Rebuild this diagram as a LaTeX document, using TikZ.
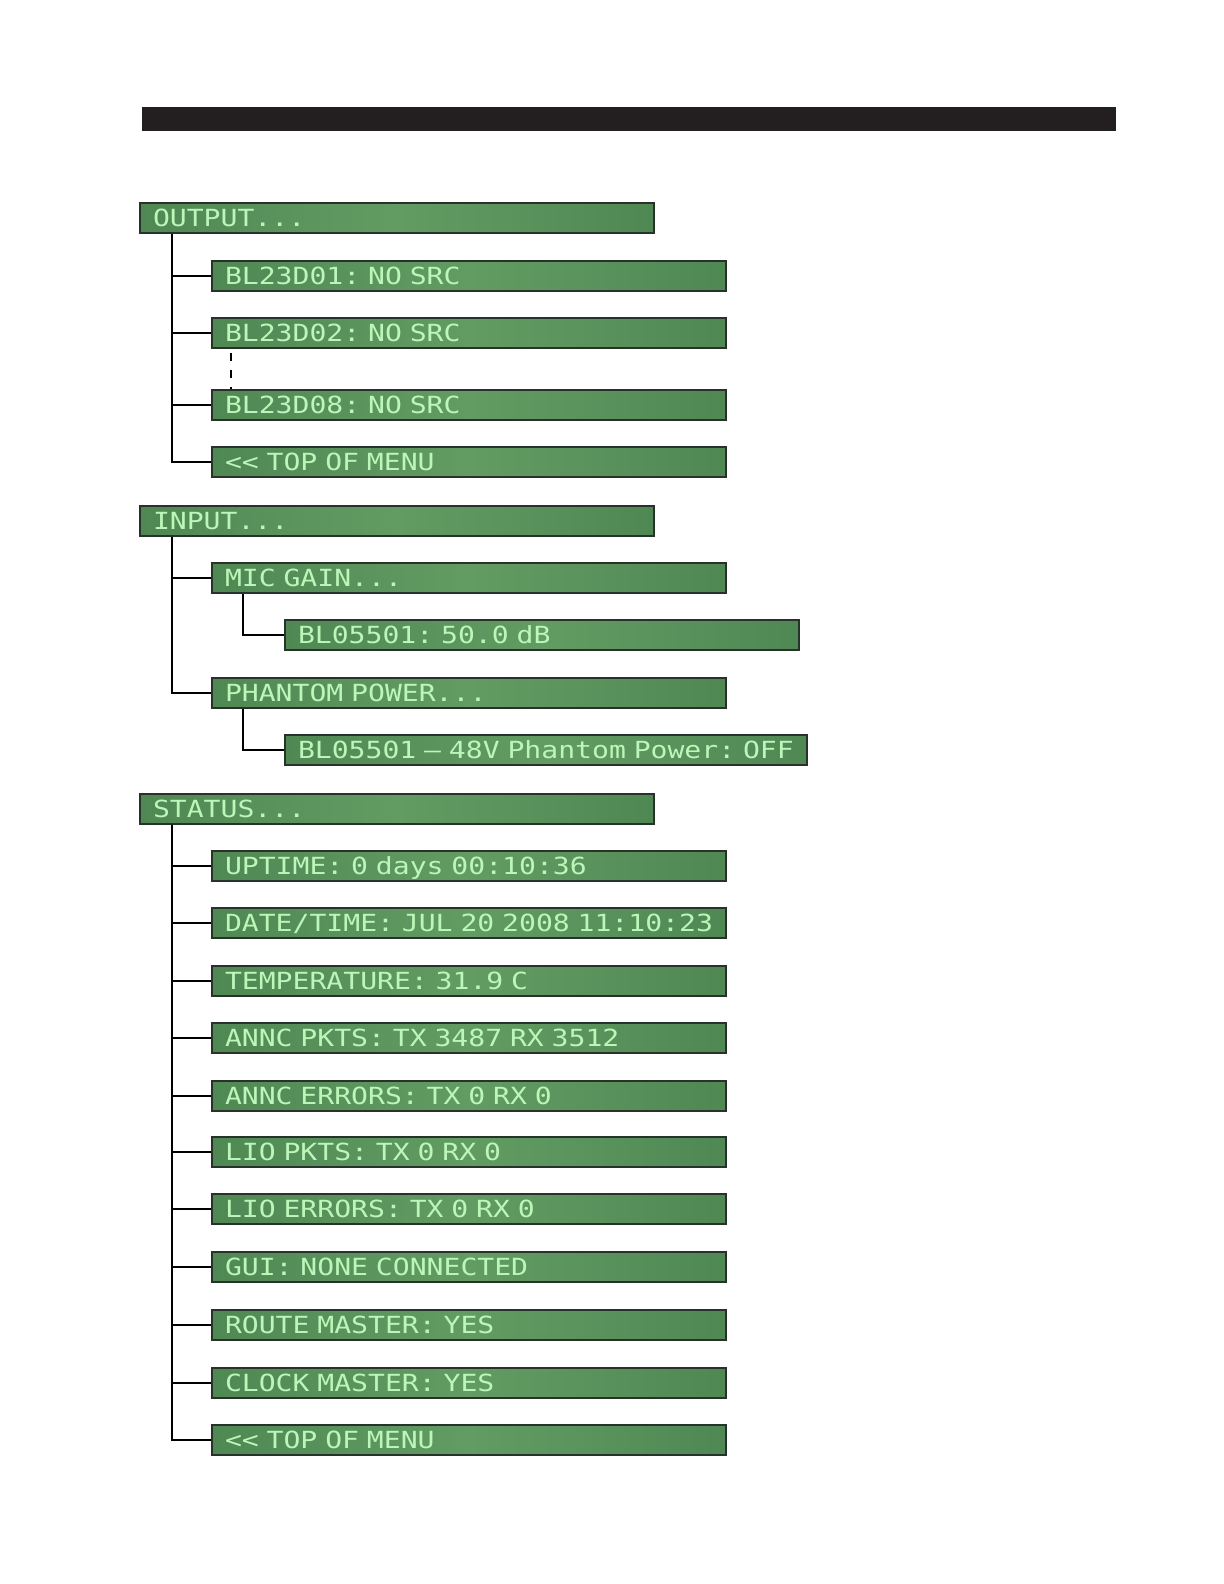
\documentclass[tikz,border=0pt]{standalone}
\usepackage{fontspec}
\usepackage{tikz}

\newfontfamily\lcdfont[FakeStretch=1.19]{DejaVu Sans Mono}
\newcommand\lcdtype{\lcdfont\fontsize{11.8}{12}\selectfont\frenchspacing\spaceskip=\fontcharwd\font`\0\relax}
\definecolor{lcddark}{RGB}{80,136,84}
\definecolor{lcdlight}{RGB}{98,156,98}
\definecolor{lcdtext}{RGB}{188,246,184}
\definecolor{lcdedge}{RGB}{40,50,42}
\definecolor{barblack}{RGB}{35,31,32}

\tikzset{
    menu/.style={draw=lcdedge, line width=1pt, left color=lcddark, right color=lcddark, middle color=lcdlight,
        text=lcdtext, font=\lcdtype, anchor=west,
        text width=244pt, align=left, inner xsep=6.5pt, inner ysep=0pt,
        minimum height=14.6pt, text height=8.6pt, text depth=0pt},
    wide/.style={text width=248pt},
    tree/.style={line width=1.1pt, black}
}

\begin{document}
\begin{tikzpicture}[x=0.5pt, y=-0.5pt]
            \useasboundingbox (0,0) rectangle (1224,1584);
            \fill[barblack] (142,107) rectangle (1116,131);

            % output menu
            \node[menu] (output) at (139,218) {OUTPUT...};
            \node[menu] (d01) at (211,276) {BL23D01: NO SRC};
            \node[menu] (d02) at (211,333) {BL23D02: NO SRC};
            \node[menu] (d08) at (211,405) {BL23D08: NO SRC};
            \node[menu] (otop) at (211,462) {<< TOP OF MENU};

            \draw[tree] ([xshift=16.5pt]output.south west) |- (d01.west);
            \draw[tree] ([xshift=16.5pt]output.south west) |- (d02.west);
            \draw[tree] ([xshift=16.5pt]output.south west) |- (d08.west);
            \draw[tree] ([xshift=16.5pt]output.south west) |- (otop.west);
            \draw[tree, line width=1.3pt, dash pattern=on 4pt off 4.5pt, dash phase=-2pt] ([xshift=10pt]d02.south west) -- ([xshift=10pt]d08.north west);

            % input menu
            \node[menu] (input) at (139,521) {INPUT...};
            \node[menu] (micgain) at (211,578) {MIC GAIN...};
            \node[menu] (gain) at (284,635) {BL05501: 50.0 dB};
            \node[menu] (phantom) at (211,693) {PHANTOM POWER...};
            \node[menu, wide] (phpower) at (284,750) {\mbox{BL05501 — 48V Phantom Power: OFF}};

            \draw[tree] ([xshift=16.5pt]input.south west) |- (micgain.west);
            \draw[tree] ([xshift=16.5pt]input.south west) |- (phantom.west);
            \draw[tree] ([xshift=16pt]micgain.south west) |- (gain.west);
            \draw[tree] ([xshift=16pt]phantom.south west) |- (phpower.west);

            % status menu
            \node[menu] (status) at (139,809) {STATUS...};
            \node[menu] (uptime) at (211,866) {UPTIME: 0 days 00:10:36};
            \node[menu] (datetime) at (211,923) {DATE/TIME: JUL 20 2008 11:10:23};
            \node[menu] (temp) at (211,981) {TEMPERATURE: 31.9 C};
            \node[menu] (anncpkts) at (211,1038) {ANNC PKTS: TX 3487 RX 3512};
            \node[menu] (anncerr) at (211,1096) {ANNC ERRORS: TX 0 RX 0};
            \node[menu] (liopkts) at (211,1152) {LIO PKTS: TX 0 RX 0};
            \node[menu] (lioerr) at (211,1209) {LIO ERRORS: TX 0 RX 0};
            \node[menu] (gui) at (211,1267) {GUI: NONE CONNECTED};
            \node[menu] (route) at (211,1325) {ROUTE MASTER: YES};
            \node[menu] (clock) at (211,1383) {CLOCK MASTER: YES};
            \node[menu] (stop) at (211,1440) {<< TOP OF MENU};

            \draw[tree] ([xshift=16.5pt]status.south west) |- (uptime.west);
            \draw[tree] ([xshift=16.5pt]status.south west) |- (datetime.west);
            \draw[tree] ([xshift=16.5pt]status.south west) |- (temp.west);
            \draw[tree] ([xshift=16.5pt]status.south west) |- (anncpkts.west);
            \draw[tree] ([xshift=16.5pt]status.south west) |- (anncerr.west);
            \draw[tree] ([xshift=16.5pt]status.south west) |- (liopkts.west);
            \draw[tree] ([xshift=16.5pt]status.south west) |- (lioerr.west);
            \draw[tree] ([xshift=16.5pt]status.south west) |- (gui.west);
            \draw[tree] ([xshift=16.5pt]status.south west) |- (route.west);
            \draw[tree] ([xshift=16.5pt]status.south west) |- (clock.west);
            \draw[tree] ([xshift=16.5pt]status.south west) |- (stop.west);
        \end{tikzpicture}
\end{document}
